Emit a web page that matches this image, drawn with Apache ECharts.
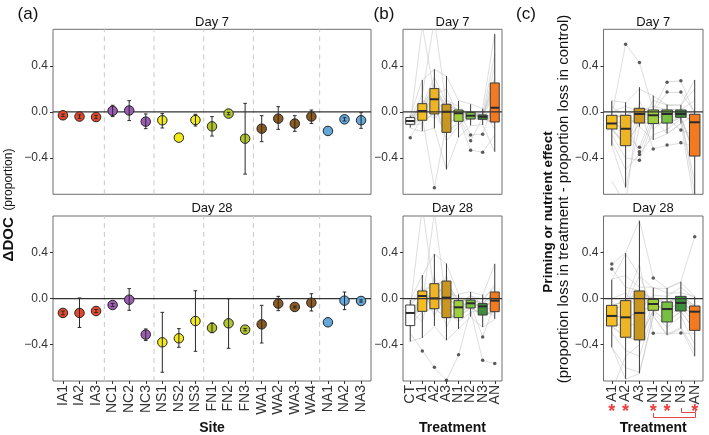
<!DOCTYPE html>
<html><head><meta charset="utf-8">
<script src="https://cdn.jsdelivr.net/npm/echarts@6/dist/echarts.min.js"></script>
<style>html,body{margin:0;padding:0;background:#fff}#c{width:709px;height:435px}</style>
</head><body><div id="c"></div>
<script>
// ---------- DATA ----------
const sites = ['IA1','IA2','IA3','NC1','NC2','NC3','NS1','NS2','NS3','FN1','FN2','FN3','WA1','WA2','WA3','WA4','NA1','NA2','NA3'];
const siteGroups = ['IA','IA','IA','NC','NC','NC','NS','NS','NS','FN','FN','FN','WA','WA','WA','WA','NA','NA','NA'];
const day7Mean  = [-0.029,-0.040,-0.044, 0.010, 0.013,-0.084,-0.072,-0.223,-0.070,-0.125,-0.014,-0.232,-0.145,-0.058,-0.101,-0.040,-0.165,-0.064,-0.072];
const day7Low   = [-0.040,-0.055,-0.058,-0.040,-0.075,-0.145,-0.139,-0.223,-0.122,-0.209,-0.025,-0.540,-0.258,-0.151,-0.168,-0.100,-0.165,-0.078,-0.142];
const day7High  = [-0.018,-0.025,-0.030, 0.058, 0.098,-0.017,-0.014,-0.223,-0.020,-0.040,-0.003, 0.075,-0.032, 0.046,-0.032, 0.017,-0.165,-0.050,-0.006];
const day28Mean = [-0.124,-0.124,-0.107,-0.055,-0.009,-0.312,-0.379,-0.344,-0.194,-0.254,-0.214,-0.269,-0.223,-0.043,-0.072,-0.035,-0.205,-0.017,-0.020];
const day28Low  = [-0.140,-0.250,-0.120,-0.068,-0.101,-0.364,-0.639,-0.422,-0.457,-0.295,-0.431,-0.280,-0.385,-0.104,-0.080,-0.107,-0.205,-0.095,-0.030];
const day28High = [-0.108, 0.006,-0.094,-0.042, 0.087,-0.263,-0.119,-0.260, 0.069,-0.211, 0.000,-0.258,-0.058, 0.020,-0.064, 0.043,-0.205, 0.058,-0.010];

const treatB = ['CT','A1','A2','A3','N1','N2','N3','AN'];
const treatC = ['A1','A2','A3','N1','N2','N3','AN'];
const yTicks = [-0.4, 0, 0.4];

// box stats: [lower whisker, Q1, median, Q3, upper whisker]
const b7Box = [
 [-0.136,-0.107,-0.078,-0.049,-0.030],
 [-0.165,-0.072, 0.009, 0.072, 0.278],
 [-0.142,-0.017, 0.110, 0.203, 0.371],
 [-0.499,-0.177, 0.003, 0.067, 0.313],
 [-0.220,-0.081,-0.012, 0.017, 0.096],
 [-0.116,-0.061,-0.032,-0.003, 0.067],
 [-0.113,-0.064,-0.041,-0.026, 0.029],
 [-0.345,-0.087, 0.037, 0.252, 0.676]];
const b7Out = [['CT',-0.223],['A2',-0.658],['N2',-0.200],['N2',-0.249],['N2',-0.333],['N3',-0.194],['N3',-0.350]];
const b28Box = [
 [-0.373,-0.234,-0.124,-0.055,-0.012],
 [-0.341,-0.110, 0.023, 0.067, 0.205],
 [-0.237,-0.087, 0.003, 0.130, 0.387],
 [-0.361,-0.165, 0.009, 0.153, 0.306],
 [-0.263,-0.165,-0.075,-0.017, 0.038],
 [-0.156,-0.081,-0.040,-0.012, 0.058],
 [-0.246,-0.142,-0.067,-0.043, 0.035],
 [-0.176,-0.113,-0.017, 0.058, 0.303]];
const b28Out = [['A1',-0.454],['A2',-0.596],['A3',-0.708],['N1',-0.486],['N3',-0.333],['N3',-0.535],['AN',-0.564]];
const c7Box = [
 [-0.293,-0.148,-0.101,-0.029, 0.096],
 [-0.655,-0.293,-0.145,-0.029, 0.084],
 [-0.128,-0.096,-0.017, 0.032, 0.215],
 [-0.243,-0.101,-0.029, 0.017, 0.142],
 [-0.186,-0.096,-0.017, 0.017, 0.064],
 [-0.099,-0.046,-0.017, 0.017, 0.061],
 [-0.900,-0.383,-0.090,-0.020, 0.278]];
const c7Out = [['A2',0.589],['A3',0.429],['A3',-0.307],['A3',-0.345],['A3',-0.370],['A3',-0.420],['N1',-0.322],['N2',0.258],['N2',0.174],['N2',-0.287],['N3',0.272],['N3',0.174],['N3',-0.157],['N3',-0.267]];
const c28Box = [
 [-0.422,-0.237,-0.150,-0.058, 0.165],
 [-0.697,-0.335,-0.162,-0.017, 0.396],
 [-0.648,-0.358,-0.124, 0.067, 0.676],
 [-0.150,-0.101,-0.046,-0.006, 0.095],
 [-0.315,-0.202,-0.090,-0.029, 0.093],
 [-0.260,-0.107,-0.037, 0.020, 0.147],
 [-0.500,-0.275,-0.113,-0.064, 0.017]];
const c28Out = [['A1',0.301],['A1',0.258],['N1',0.180],['N1',-0.301],['N3',-0.298],['AN',0.538]];

// per-site trajectories (grey lines)
const b7Lines = [
 [-0.05, 0.07, 0.20, 0.06, 0.01,-0.01,-0.03, 0.25],
 [-0.08, 0.01, 0.11, 0.00,-0.01,-0.03,-0.04, 0.04],
 [-0.11,-0.07,-0.02,-0.18,-0.08,-0.06,-0.06,-0.09],
 [-0.03, 0.28, 0.37, 0.31, 0.10, 0.07, 0.03, 0.68],
 [-0.14,-0.17,-0.14,-0.50,-0.22,-0.12,-0.11,-0.35],
 [-0.22,-0.05,-0.66,-0.10,-0.05,-0.33,-0.35,-0.20],
 [-0.06, 0.15, 0.80, 0.05, 0.02,-0.20,-0.19, 0.10],
 [-0.09, 0.04, 0.25, 0.02,-0.03,-0.25,-0.05, 0.40],
 [-0.07,-0.03, 0.05,-0.05, 0.00,-0.02,-0.02,-0.05],
 [-0.10, 0.75, 0.15, 0.20,-0.04,-0.04,-0.03, 0.15],
 [-0.04, 0.02, 0.08,-0.25,-0.12, 0.00,-0.06, 0.00],
 [-0.12,-0.10, 0.00, 0.10, 0.05,-0.05, 0.01,-0.15],
 [-0.06, 0.05, 0.18, 0.04, 0.00,-0.02,-0.04, 0.30],
 [-0.09,-0.06, 0.12,-0.10,-0.05,-0.04,-0.05,-0.05],
 [-0.05, 0.00, 0.22, 0.00, 0.01,-0.01,-0.03, 0.20],
 [-0.08, 0.10, 0.05,-0.17,-0.10,-0.06,-0.06,-0.10],
 [-0.10,-0.02,-0.05, 0.03,-0.02,-0.03,-0.04, 0.06],
 [-0.07, 0.06, 0.30, 0.08, 0.02, 0.00,-0.02, 0.50]];
const b28Lines = [
 [-0.01, 0.20, 0.39, 0.30, 0.04, 0.06, 0.03, 0.30],
 [-0.12, 0.02, 0.00, 0.01,-0.07,-0.04,-0.07,-0.02],
 [-0.23,-0.11,-0.09,-0.16,-0.16,-0.08,-0.14,-0.11],
 [-0.37,-0.34,-0.24,-0.36,-0.26,-0.16,-0.25,-0.18],
 [-0.30,-0.45,-0.60,-0.71,-0.49,-0.10,-0.54,-0.56],
 [-0.05, 0.07, 0.13, 0.15,-0.02,-0.01,-0.04, 0.06],
 [-0.08, 0.80, 0.05, 0.10,-0.03, 0.02, 0.00, 0.10],
 [-0.15,-0.05, 0.75,-0.05,-0.10,-0.05,-0.33,-0.05],
 [-0.20, 0.05,-0.05, 0.20,-0.12,-0.06,-0.10,-0.15],
 [-0.10,-0.20, 0.20,-0.25,-0.05, 0.03,-0.05, 0.02],
 [-0.03, 0.10,-0.15, 0.05, 0.02,-0.03,-0.02, 0.12],
 [-0.18,-0.08, 0.08,-0.10,-0.20,-0.12,-0.09,-0.08],
 [-0.06, 0.06, 0.12, 0.14,-0.02,-0.01,-0.04, 0.05],
 [-0.13,-0.10,-0.08,-0.17,-0.15,-0.08,-0.14,-0.12],
 [-0.22, 0.00, 0.03,-0.05,-0.08,-0.05,-0.07,-0.03],
 [-0.16, 0.04,-0.09, 0.16,-0.17,-0.02,-0.05, 0.06],
 [-0.05,-0.11, 0.13, 0.00,-0.06,-0.04,-0.06,-0.02],
 [-0.25, 0.07,-0.02,-0.17,-0.02,-0.07,-0.14,-0.11]];
const c7Lines = [
 [ 0.10, 0.08, 0.20, 0.14, 0.06, 0.06, 0.28],
 [-0.10,-0.15,-0.02,-0.03,-0.02,-0.02,-0.09],
 [-0.29,-0.66,-0.13,-0.24,-0.19,-0.10,-0.80],
 [-0.15,-0.29,-0.10,-0.10,-0.10,-0.05,-0.38],
 [-0.03, 0.59, 0.43, 0.02, 0.26, 0.27,-0.02],
 [-0.05,-0.03, 0.03,-0.32,-0.29,-0.27,-0.30],
 [-0.12,-0.20,-0.31, 0.00, 0.17, 0.17, 0.00],
 [-0.08,-0.10,-0.35,-0.05,-0.05,-0.16,-0.20],
 [-0.20,-0.40,-0.42,-0.08, 0.00, 0.00,-0.05],
 [ 0.00, 0.05, 0.00, 0.05, 0.02, 0.02, 0.10],
 [-0.25,-0.50,-0.37,-0.20,-0.15,-0.06,-0.60],
 [-0.60,-0.80, 0.10,-0.15,-0.05,-0.04,-0.70],
 [-0.14,-0.28,-0.09,-0.09,-0.09,-0.04,-0.38],
 [-0.03,-0.03, 0.03, 0.02, 0.02, 0.02,-0.02],
 [-0.10,-0.14,-0.02,-0.03,-0.02,-0.02,-0.09],
 [-0.15,-0.30, 0.00,-0.10,-0.10,-0.05,-0.35],
 [ 0.05,-0.05,-0.10, 0.10, 0.06, 0.06, 0.20],
 [-0.05,-0.03,-0.08,-0.05,-0.19,-0.10,-0.02]];
const c28Lines = [
 [ 0.30, 0.40, 0.68, 0.18, 0.09, 0.15, 0.54],
 [-0.15,-0.16,-0.12,-0.05,-0.09,-0.04,-0.11],
 [-0.42,-0.70,-0.65,-0.15,-0.32,-0.26,-0.50],
 [-0.24,-0.34,-0.36,-0.10,-0.20,-0.11,-0.28],
 [ 0.26, 0.10, 0.07, 0.00,-0.03, 0.02,-0.06],
 [-0.06,-0.02, 0.30,-0.30,-0.30,-0.30,-0.30],
 [ 0.17, 0.20, 0.10, 0.10, 0.05, 0.05, 0.02],
 [-0.80,-0.50,-0.40,-0.02,-0.15,-0.08,-0.20],
 [-0.10,-0.05, 0.20,-0.08,-0.05, 0.00,-0.08],
 [-0.20,-0.25,-0.20,-0.04,-0.12,-0.06,-0.15],
 [ 0.00, 0.05,-0.10, 0.03, 0.02, 0.10, 0.00],
 [-0.30,-0.45,-0.50,-0.12,-0.25,-0.15,-0.40],
 [-0.06,-0.02, 0.07,-0.01,-0.03, 0.02,-0.06],
 [-0.24,-0.33,-0.36,-0.10,-0.20,-0.11,-0.27],
 [-0.15,-0.16,-0.12,-0.05,-0.09,-0.04,-0.11],
 [ 0.16, 0.39, 0.20, 0.09, 0.09, 0.14, 0.02],
 [-0.42,-0.60,-0.64,-0.15,-0.31,-0.25,-0.45],
 [-0.06,-0.02, 0.05,-0.01,-0.03, 0.00,-0.07]];

const sigStars = ['A1','A2','N1','N2','AN'];
const sigBrackets = [['N1','AN'],['N3','AN']];

// ---------- STYLE ----------
const FONT = '"Liberation Sans", Arial, Helvetica, sans-serif';
const groupColor = {IA:'#E8472B', NC:'#9E5BB5', NS:'#F3EA17', FN:'#B3C72D', WA:'#8A5A1F', NA:'#62A8DA'};
const treatColor = {CT:'#FFFFFF', A1:'#F3BD23', A2:'#EDB426', A3:'#C9961F', N1:'#9FCF3C', N2:'#78C044', N3:'#3F8E3B', AN:'#F47A20'};
const YMIN = -0.715, YMAX = 0.718;
const grids = [
 {left:53, top:29.3, width:318, height:165},
 {left:53, top:216, width:318, height:165},
 {left:403, top:29.3, width:99, height:165},
 {left:403, top:216, width:99, height:165},
 {left:603.5, top:29.3, width:99.5, height:165},
 {left:603.5, top:216, width:99.5, height:165}];
const axisNames = [sites, sites, treatB, treatB, treatC, treatC];

function fmtY(v){ if (Math.abs(v) < 1e-9) return '0.0'; return (v < 0 ? '\u2212' : '') + Math.abs(v).toFixed(1); }

// main x axes: ticks only; labels on two overlaid label-only axes (odd / even) to avoid auto-hiding
const xAxes = axisNames.map((names, i) => {
  const bottom = i % 2 === 1;
  const idx = names.map((_, k) => k + 1);
  return {gridIndex:i, type:'value', position:'bottom', offset:0, min:0.4, max:names.length + 0.6,
    axisLine:{show:false, onZero:false}, splitLine:{show:false},
    axisTick:{show:bottom, length:3, customValues:idx, lineStyle:{color:'#333', width:1}},
    axisLabel:{show:false}};
});
axisNames.forEach((names, i) => {
  if (i % 2 !== 1) return;
  [1, 2].forEach(start => {
    const vals = names.map((_, k) => k + 1).filter(v => (v - start) % 2 === 0);
    xAxes.push({gridIndex:i, type:'value', position:'bottom', offset:0, min:0.4, max:names.length + 0.6,
      axisLine:{show:false, onZero:false}, splitLine:{show:false}, axisTick:{show:false},
      axisLabel:{show:true, customValues:vals, rotate:90, margin:4, fontSize:14, color:'#333', fontFamily:FONT,
        showMinLabel:true, showMaxLabel:true, hideOverlap:false,
        formatter: v => names[Math.round(v) - 1] || ''}});
  });
});

const option = {
  animation:false,
  backgroundColor:'#fff',
  grid: grids.map(g => Object.assign({show:true, borderColor:'#6e6e6e', borderWidth:1, backgroundColor:'transparent'}, g)),
  xAxis: xAxes,
  yAxis: grids.map((g, i) => ({gridIndex:i, type:'value', position:'left', min:YMIN, max:YMAX,
      axisLine:{show:false, onZero:false}, splitLine:{show:false},
      axisTick:{show:true, length:3, customValues:yTicks, lineStyle:{color:'#333', width:1}},
      axisLabel:{customValues:yTicks, formatter:fmtY, fontSize:12, color:'#333', margin:5, fontFamily:FONT}})),
  series: [],
  graphic: []
};

const S = option.series;
// ---- panel (a) ----
const dividers = [];
for (let i = 1; i < siteGroups.length; i++) if (siteGroups[i] !== siteGroups[i-1]) dividers.push(i + 0.5);
[[day7Mean, day7Low, day7High], [day28Mean, day28Low, day28High]].forEach((d, p) => {
  dividers.forEach(dx => S.push({type:'line', xAxisIndex:p, yAxisIndex:p, silent:true, symbol:'none', z:1,
    data:[[dx, YMIN], [dx, YMAX]], lineStyle:{color:'#c9c9c9', width:1, type:[5,4]}}));
  S.push({type:'line', xAxisIndex:p, yAxisIndex:p, silent:true, symbol:'none', z:2,
    data:[[0.4, 0], [sites.length + 0.6, 0]], lineStyle:{color:'#333', width:1.2}});
  S.push({type:'scatter', xAxisIndex:p, yAxisIndex:p, z:3, symbol:'circle', symbolSize:9.5,
    data: d[0].map((v, k) => ({value:[k + 1, v], itemStyle:{color:groupColor[siteGroups[k]], borderColor:'#222', borderWidth:1, opacity:1}}))});
  S.push({type:'custom', xAxisIndex:p, yAxisIndex:p, z:4, clip:true,
    data: d[0].map((v, k) => [k + 1, d[1][k], d[2][k]]),
    renderItem: (params, api) => {
      const lo = api.value(1), hi = api.value(2);
      if (Math.abs(hi - lo) < 1e-9) return null;
      const a = api.coord([api.value(0), hi]), b = api.coord([api.value(0), lo]);
      const st = {stroke:'#2a2a2a', lineWidth:1};
      return {type:'group', children:[
        {type:'line', shape:{x1:a[0], y1:a[1], x2:b[0], y2:b[1]}, style:st},
        {type:'line', shape:{x1:a[0]-1.8, y1:a[1], x2:a[0]+1.8, y2:a[1]}, style:st},
        {type:'line', shape:{x1:b[0]-1.8, y1:b[1], x2:b[0]+1.8, y2:b[1]}, style:st}]};
    }});
});

// ---- panels (b),(c) ----
const boxPanels = [
  {ax:2, names:treatB, box:b7Box,  out:b7Out,  lines:b7Lines,  bw:9},
  {ax:3, names:treatB, box:b28Box, out:b28Out, lines:b28Lines, bw:9},
  {ax:4, names:treatC, box:c7Box,  out:c7Out,  lines:c7Lines,  bw:10.5},
  {ax:5, names:treatC, box:c28Box, out:c28Out, lines:c28Lines, bw:10.5}];
boxPanels.forEach(P => {
  P.lines.forEach(L => S.push({type:'line', xAxisIndex:P.ax, yAxisIndex:P.ax, silent:true, symbol:'none', z:1,
    data: L.map((v, k) => [k + 1, v]), lineStyle:{color:'rgba(190,190,190,0.5)', width:1}}));
  S.push({type:'custom', xAxisIndex:P.ax, yAxisIndex:P.ax, z:3, clip:true,
    data: P.box.map((b, k) => [k + 1].concat(b)),
    renderItem: (params, api) => {
      const x = api.value(0);
      const mn = api.coord([x, api.value(1)]), q1 = api.coord([x, api.value(2)]), md = api.coord([x, api.value(3)]),
            q3 = api.coord([x, api.value(4)]), mx = api.coord([x, api.value(5)]);
      const col = treatColor[P.names[params.dataIndex]];
      const st = {stroke:'#3a3a3a', lineWidth:1};
      const bw = P.bw, cx = mn[0];
      return {type:'group', children:[
        {type:'line', shape:{x1:cx, y1:mn[1], x2:cx, y2:q1[1]}, style:st},
        {type:'line', shape:{x1:cx, y1:q3[1], x2:cx, y2:mx[1]}, style:st},
        {type:'rect', shape:{x:cx - bw/2, y:q3[1], width:bw, height:q1[1] - q3[1]}, style:{fill:col, stroke:'#3a3a3a', lineWidth:1}},
        {type:'line', shape:{x1:cx - bw/2, y1:md[1], x2:cx + bw/2, y2:md[1]}, style:{stroke:'#2a2a2a', lineWidth:2}}]};
    }});
  S.push({type:'scatter', xAxisIndex:P.ax, yAxisIndex:P.ax, z:4, symbol:'circle', symbolSize:3.5,
    itemStyle:{color:'#333'}, data: P.out.map(o => [P.names.indexOf(o[0]) + 1, o[1]])});
  S.push({type:'line', xAxisIndex:P.ax, yAxisIndex:P.ax, silent:true, symbol:'none', z:5,
    data:[[0.4, 0], [P.names.length + 0.6, 0]], lineStyle:{color:'#333', width:1.2}});
});

// ---- text ----
function txt(t, x, y, font, extra, fill){ return Object.assign({type:'text', x:x, y:y, silent:true,
  style:{text:t, font:font, fill:fill || '#111', align:'center', verticalAlign:'middle', textAlign:'center', textVerticalAlign:'middle'}}, extra || {}); }
const G = option.graphic;
G.push(txt('(a)', 28, 14, '17px ' + FONT));
G.push(txt('(b)', 384, 14, '17px ' + FONT));
G.push(txt('(c)', 526, 14, '17px ' + FONT));
[212, 452.5, 653.2].forEach(cx => { G.push(txt('Day 7', cx, 22, '13px ' + FONT)); G.push(txt('Day 28', cx, 208, '13px ' + FONT)); });
G.push(txt('Site', 212, 428, 'bold 14px ' + FONT));
G.push(txt('Treatment', 452.5, 428, 'bold 14px ' + FONT));
G.push(txt('Treatment', 653.2, 428, 'bold 14px ' + FONT));
G.push({type:'text', x:9, y:205, rotation:Math.PI/2, silent:true,
  style:{text:'{b|\u0394DOC}  {n|(proportion)}', fill:'#111', align:'center', verticalAlign:'middle', textAlign:'center', textVerticalAlign:'middle',
    rich:{b:{fontWeight:'bold', fontSize:15, fontFamily:FONT, fill:'#111'}, n:{fontSize:12, fontFamily:FONT, fill:'#111'}}}});
G.push(txt('Priming or nutrient effect', 548, 212, 'bold 13.5px ' + FONT, {rotation:Math.PI/2}));
G.push(txt('(proportion loss in treatment - proportion loss in control)', 564, 199, '15px ' + FONT, {rotation:Math.PI/2}));

const chart = echarts.init(document.getElementById('c'), null, {renderer:'canvas'});
chart.setOption(option);

// significance marks under panel (c)
const px = name => chart.convertToPixel({xAxisIndex:5}, treatC.indexOf(name) + 1);
const extra = [];
sigStars.forEach(n => extra.push(txt('*', px(n), 412, 'bold 18px ' + FONT, null, '#EE3B3B')));
const bl = {stroke:'#E04848', lineWidth:1};
sigBrackets.forEach((br, k) => {
  const x1 = Math.round(px(br[0])) + 0.5, x2 = Math.round(px(br[1])) + 0.5;
  const yb = k === 0 ? 417.5 : 412.5, yt = yb - 4.5;
  extra.push({type:'line', silent:true, z:10, shape:{x1:x1, y1:yb, x2:x2, y2:yb}, style:bl});
  extra.push({type:'line', silent:true, z:10, shape:{x1:x1, y1:yt, x2:x1, y2:yb}, style:bl});
  extra.push({type:'line', silent:true, z:10, shape:{x1:x2, y1:yt, x2:x2, y2:yb}, style:bl});
});
chart.setOption({graphic: option.graphic.concat(extra)});
</script></body></html>
